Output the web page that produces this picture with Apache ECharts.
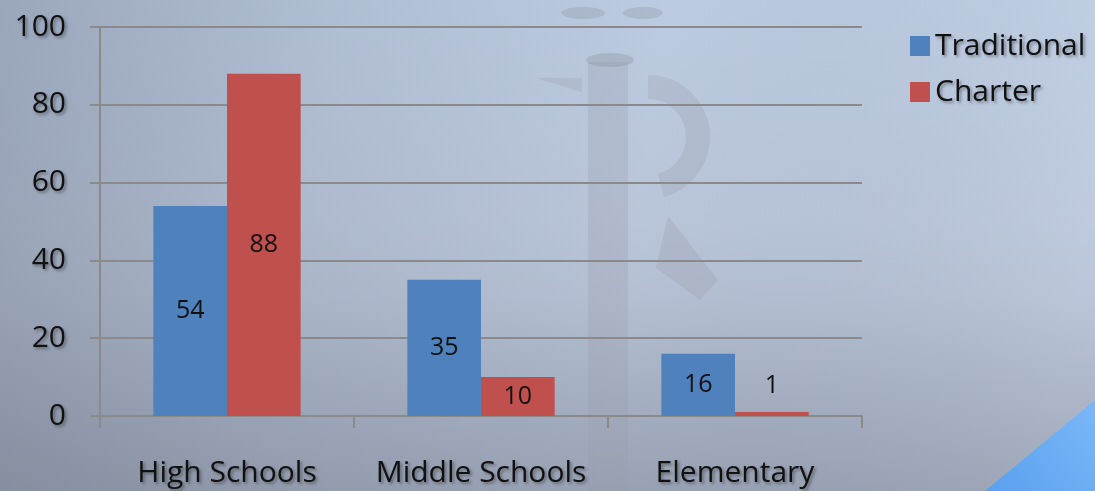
<!DOCTYPE html>
<html><head><meta charset="utf-8">
<script src="https://cdn.jsdelivr.net/npm/echarts@6/dist/echarts.min.js"></script>
<style>html,body{margin:0;padding:0;}#c{width:1095px;height:491px;}</style>
</head><body><div id="c"></div>
<script>
const categories = ['High Schools', 'Middle Schools', 'Elementary'];
const traditional = [54, 35, 16];
const charter = [88, 10, 1];
const yTicks = [0, 20, 40, 60, 80, 100];

const FONT = "'Open Sans', sans-serif";
const shadow = { textShadowColor: 'rgba(0,0,0,0.35)', textShadowBlur: 3, textShadowOffsetX: 2, textShadowOffsetY: 2 };
const wm = 'rgba(150,156,168,0.26)';

const labelFor = v => v < 5 ? { value: v, label: { position: 'top', distance: 14 } } : v;

const chart = echarts.init(document.getElementById('c'), null, { renderer: 'canvas' });
chart.setOption({
  backgroundColor: {
    type: 'linear', x: 0, y: 0, x2: 0, y2: 1,
    colorStops: [
      { offset: 0, color: '#bccbe2' },
      { offset: 0.45, color: '#b9c5d9' },
      { offset: 1, color: '#a9b2c4' }
    ]
  },
  graphic: [
    { type: 'rect', left: 0, top: 0, z: -2, silent: true,
      shape: { width: 1095, height: 491 },
      style: { fill: { type: 'linear', x: 0, y: 0, x2: 1, y2: 0.3, colorStops: [{offset:0,color:'rgba(90,98,115,0.35)'},{offset:0.3,color:'rgba(90,98,115,0.12)'},{offset:0.6,color:'rgba(90,98,115,0)'},{offset:1,color:'rgba(220,230,245,0.15)'}] } } },
    { type: 'rect', left: 0, top: 0, z: -2, silent: true,
      shape: { width: 1095, height: 491 },
      style: { fill: { type: 'linear', x: 0, y: 0, x2: 0, y2: 1, colorStops: [{offset:0,color:'rgba(90,98,115,0)'},{offset:0.6,color:'rgba(90,98,115,0)'},{offset:1,color:'rgba(80,88,105,0.18)'}] } } },
    { type: 'polygon', z: -1, silent: true,
      shape: { points: [[1095, 400], [1095, 491], [985, 491]] },
      style: { fill: { type: 'linear', x: 0, y: 1, x2: 1, y2: 0, colorStops: [{offset:0,color:'#5aa0ef'},{offset:1,color:'#7ab8f8'}] } } },
    { type: 'rect', z: -1, silent: true, left: 588, top: 62, shape: { width: 40, height: 429 }, style: { fill: wm } },
    { type: 'ellipse', z: -1, silent: true, shape: { cx: 610, cy: 60, rx: 24, ry: 7 }, style: { fill: 'rgba(140,145,155,0.35)' } },
    { type: 'ellipse', z: -1, silent: true, shape: { cx: 583, cy: 13, rx: 22, ry: 6 }, style: { fill: 'rgba(140,145,155,0.3)' } },
    { type: 'ellipse', z: -1, silent: true, shape: { cx: 643, cy: 13, rx: 20, ry: 6 }, style: { fill: 'rgba(140,145,155,0.3)' } },
    { type: 'polygon', z: -1, silent: true, shape: { points: [[536, 78], [582, 78], [582, 92]] }, style: { fill: wm } },
    { type: 'polygon', z: -1, silent: true, shape: { points: [[656, 268], [668, 216], [718, 280], [700, 300]] }, style: { fill: wm } },
    { type: 'arc', z: -1, silent: true, shape: { cx: 648, cy: 137, r: 50, startAngle: -Math.PI / 2, endAngle: Math.PI / 2.4 }, style: { stroke: wm, lineWidth: 24, fill: 'none' } }
  ],
  legend: {
    orient: 'vertical', left: 905, top: 26, itemGap: 16,
    itemWidth: 20, itemHeight: 20, icon: 'rect',
    textStyle: { fontFamily: FONT, fontSize: 30, color: '#111', padding: [0, 0, 0, 0], ...shadow },
    data: ['Traditional', 'Charter']
  },
  grid: { left: 100, top: 27, right: 233, bottom: 75, containLabel: false },
  xAxis: {
    type: 'category', data: categories,
    axisLine: { lineStyle: { color: '#8a8a8a', width: 2 } },
    axisTick: { show: true, interval: 0, length: 12, lineStyle: { color: '#8a8a8a', width: 2 } },
    axisLabel: { interval: 0, hideOverlap: false, fontFamily: FONT, fontSize: 30, color: '#111', margin: 42, ...shadow }
  },
  yAxis: {
    type: 'value', min: 0, max: 100, interval: 20,
    axisLine: { show: true, lineStyle: { color: '#8a8a8a', width: 2 } },
    axisTick: { show: true, length: 10, lineStyle: { color: '#8a8a8a', width: 2 } },
    splitLine: { lineStyle: { color: '#8a8a8a', width: 2 } },
    axisLabel: { fontFamily: FONT, fontSize: 30, color: '#111', margin: 34,
      formatter: v => yTicks.includes(v) ? String(v) : '', ...shadow }
  },
  series: [
    { name: 'Traditional', type: 'bar', data: traditional.map(labelFor), barGap: '0%', barCategoryGap: '42%',
      itemStyle: { color: '#4f81bd' },
      label: { show: true, position: 'inside', fontFamily: FONT, fontSize: 25, color: '#111' } },
    { name: 'Charter', type: 'bar', data: charter.map(labelFor), barGap: '0%', barCategoryGap: '42%',
      itemStyle: { color: '#c0504d' },
      label: { show: true, position: 'inside', fontFamily: FONT, fontSize: 25, color: '#111' } }
  ]
});
</script></body></html>
